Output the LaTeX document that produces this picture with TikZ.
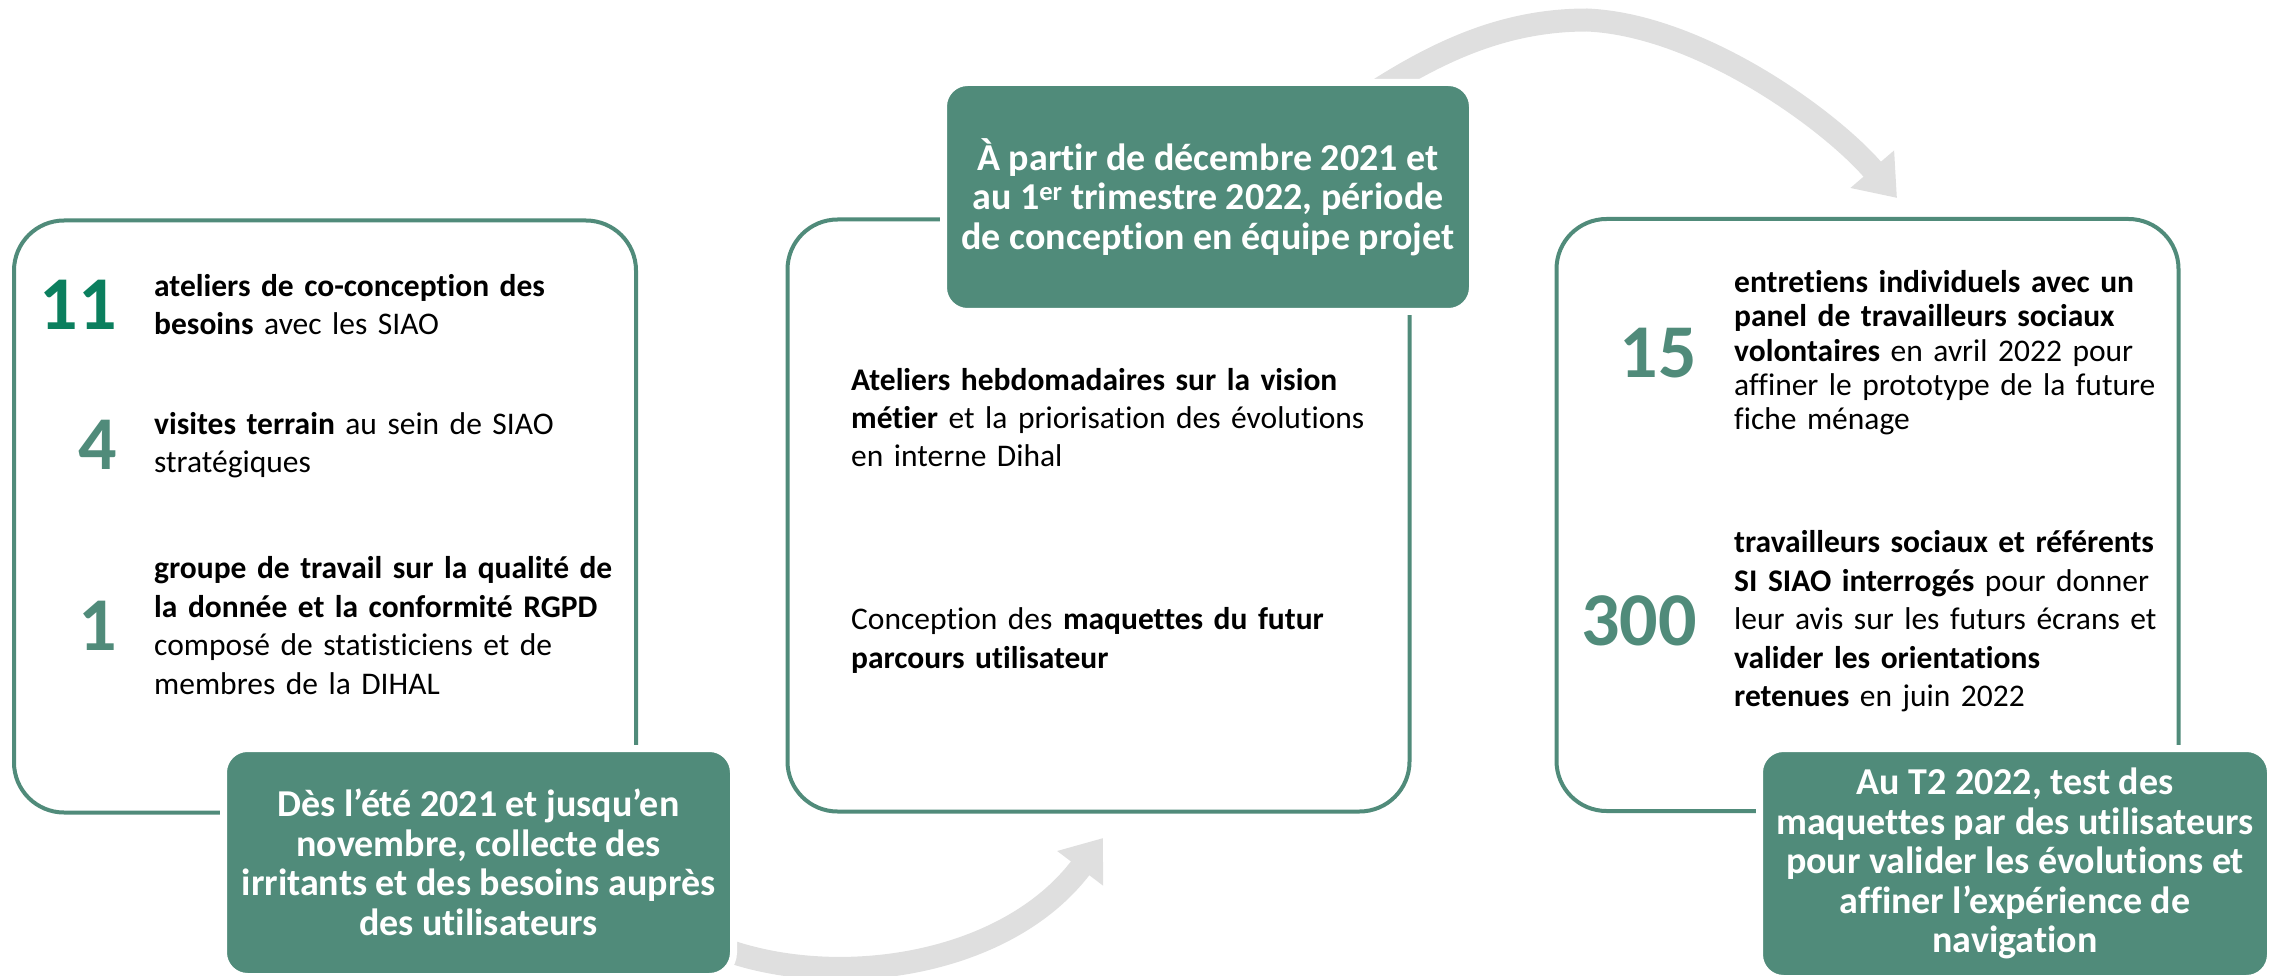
\documentclass[tikz,border=0pt]{standalone}
\usepackage{fontspec}
\setmainfont{Carlito}[Ligatures=NoCommon]
\usetikzlibrary{positioning,backgrounds,arrows.meta}
\definecolor{boxgreen}{HTML}{508B7A}
\definecolor{darkgreen}{HTML}{0B7F5E}
\definecolor{arrowgray}{HTML}{DFDFDF}

\begin{document}
\begin{tikzpicture}[x=1pt,y=-1pt,
panel/.style={
draw=boxgreen,
line width=4pt,
rounded corners=50pt,
minimum width=622pt,
minimum height=592pt},
stagebox/.style={
fill=boxgreen,
draw=white,
line width=7pt,
rounded corners=24pt,
text=white,
align=center,
inner sep=0pt,
font=\bfseries\fontsize{38}{39.5}\selectfont},
itemtext/.style={
anchor=base west,
inner sep=0pt,
text width=560pt,
align=left,
font=\fontsize{31.5}{38.5}\selectfont},
bignum/.style={
inner sep=0pt,
text=boxgreen,
font=\bfseries\fontsize{76}{76}\selectfont},
flowarrow/.style={
draw=arrowgray,
line width=23pt,
-{Triangle[length=38pt,width=55pt]}}]
\useasboundingbox (0,0) rectangle (2279,976);

% grey arrows first, the stage boxes hide their tails
\coordinate (ta) at (715,946);
\coordinate (ha) at (1103,838);
\coordinate (tb) at (1375,92);
\coordinate (hb) at (1897,198);
\draw[flowarrow] (ta) .. controls (830,992) and (1005,968) .. (ha);
\draw[flowarrow] (tb) .. controls (1445,47) and (1510,20) .. (1587,20)
  .. controls (1700,25) and (1830,120) .. (hb);

% the three panels
\node[panel](p1) at (325,516.5){};
\node[panel](p2) at (1098.5,515.5){};
\node[panel](p3) at (1867.5,515){};

% left panel
\node[itemtext](t1) at (154,296.5){\textbf{ateliers de co-conception des}\\\textbf{besoins} avec les SIAO};
\node[itemtext](t2) at (154,434){\textbf{visites terrain} au sein de SIAO\\stratégiques};
\node[itemtext](t3) at (154,578.7){\textbf{groupe de travail sur la qualité de}\\\textbf{la donnée et la conformité RGPD}\\composé de statisticiens et de\\membres de la DIHAL};
\node[bignum,text=darkgreen,left=37pt of t1](n1){11};
\node[bignum,left=37pt of t2](n2){4};
\node[bignum,left=37pt of t3](n3){1};

% middle panel
\node[itemtext](m1) at (851,390){\textbf{Ateliers hebdomadaires sur la vision}\\\textbf{métier} et la priorisation des évolutions\\en interne Dihal};
\node[itemtext](m2) at (851,629.5){Conception des \textbf{maquettes du futur}\\\textbf{parcours utilisateur}};

% right panel
\node[itemtext,text width=460pt,font=\fontsize{31.5}{34.3}\selectfont](r1) at (1734,292.7){\textbf{entretiens individuels avec un}\\\textbf{panel de travailleurs sociaux}\\\textbf{volontaires} en avril 2022 pour\\affiner le prototype de la future\\fiche ménage};
\node[itemtext,text width=460pt](r2) at (1734,552.5){\textbf{travailleurs sociaux et référents}\\\textbf{SI SIAO interrogés} pour donner\\leur avis sur les futurs écrans et\\\textbf{valider les orientations}\\\textbf{retenues} en juin 2022};
\node[bignum,left=37pt of r1](n4){15};
\node[bignum,left=37pt of r2](n5){300};

% stage boxes on top
\node[stagebox,minimum width=510pt,minimum height=228pt](g1) at (478.5,862.5){Dès l’été 2021 et jusqu’en\\novembre, collecte des\\irritants et des besoins auprès\\des utilisateurs};
\node[stagebox,minimum width=529pt,minimum height=229pt](g2) at (1208,197){À partir de décembre 2021 et\\au 1\textsuperscript{er} trimestre 2022, période\\de conception en équipe projet};
\node[stagebox,minimum width=511pt,minimum height=230pt](g3) at (2015,863.5){Au T2 2022, test des\\maquettes par des utilisateurs\\pour valider les évolutions et\\affiner l’expérience de\\navigation};
\end{tikzpicture}
\end{document}
